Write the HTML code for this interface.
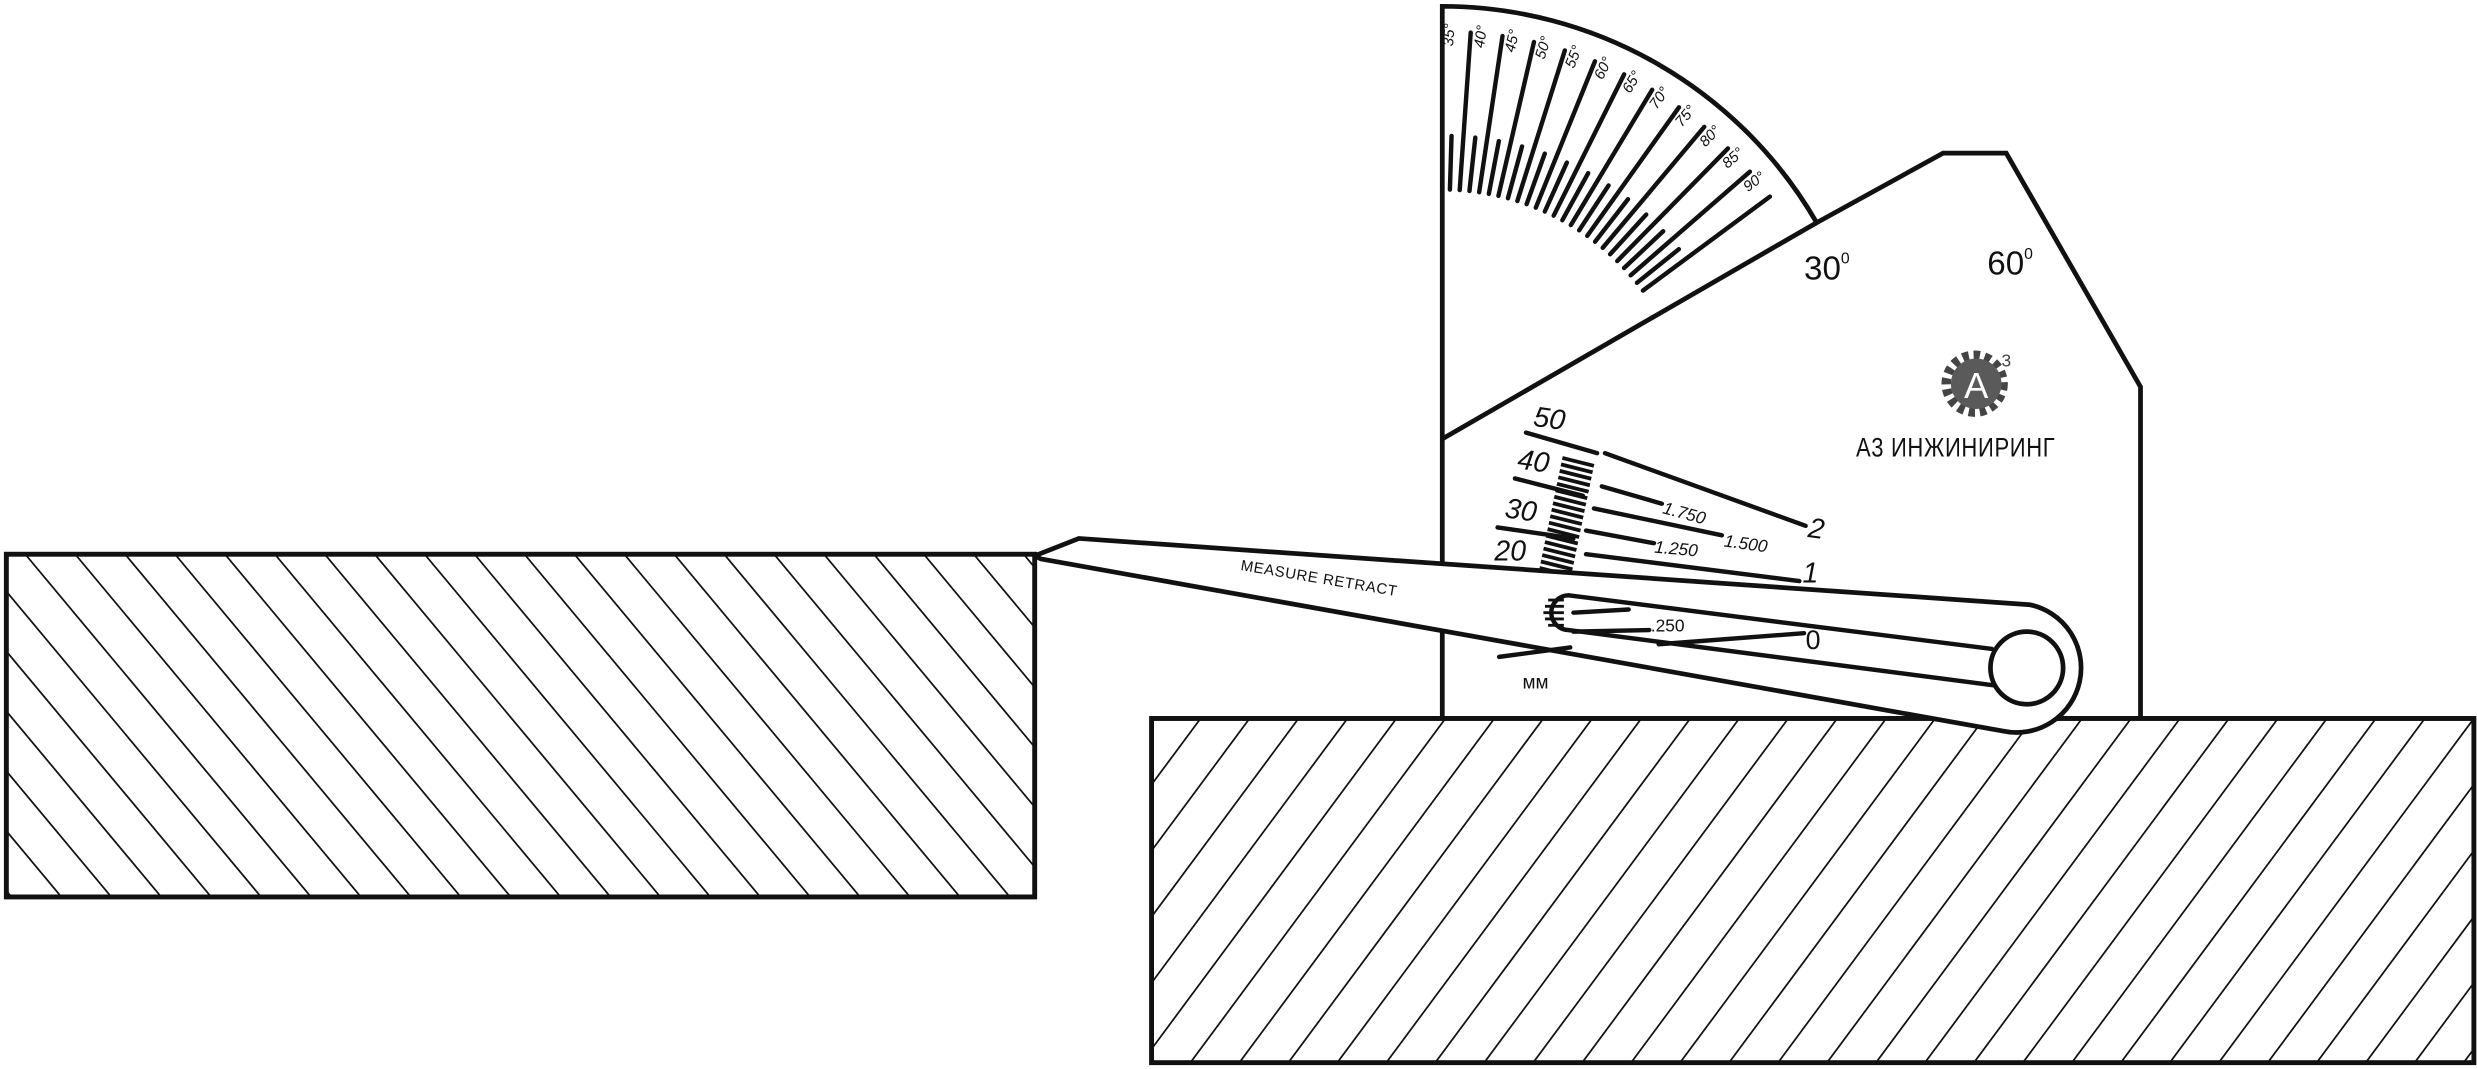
<!DOCTYPE html>
<html><head><meta charset="utf-8"><style>
html,body{margin:0;padding:0;background:#fff;}
svg{display:block;}
text{font-family:"Liberation Sans",sans-serif;fill:#111;}
</style></head><body>
<svg id="s" width="2477" height="1069" viewBox="0 0 1568 677" preserveAspectRatio="none" xmlns="http://www.w3.org/2000/svg">
<defs>
<clipPath id="cl"><rect x="4" y="351" width="651" height="217"/></clipPath>
<clipPath id="cr"><rect x="729" y="455" width="837" height="218"/></clipPath>
</defs>
<path d="M913,455 L913,4 A274,274 0 0 1 1150,141 L1230,97 L1270,97 L1355,245 L1355,455" fill="#fff" stroke="#111" stroke-width="3"/>
<line x1="913" y1="278" x2="1150" y2="141" stroke="#111" stroke-width="3"/>
<g id="ticks" stroke="#111" stroke-width="2.8" stroke-linecap="round"></g>
<g id="lbls"></g>
<text x="1142" y="177" font-size="21">30<tspan font-size="10" dy="-10">0</tspan></text>
<text x="1258" y="174" font-size="21">60<tspan font-size="10" dy="-10">0</tspan></text>
<circle cx="1250" cy="243" r="18" fill="none" stroke="#444" stroke-width="6" stroke-dasharray="4 3"/>
<circle cx="1251" cy="243" r="16" fill="#5a5a5a"/>
<text x="1251" y="252" font-size="23" text-anchor="middle" style="fill:#fff">A</text>
<text x="1267" y="232" font-size="11" style="fill:#444">3</text>
<text x="1238" y="289" font-size="17" text-anchor="middle" transform="translate(1238,0) scale(0.82,1) translate(-1238,0)" letter-spacing="0.5">А3 ИНЖИНИРИНГ</text>
<g stroke="#111" stroke-width="2.8" stroke-linecap="round">
<line x1="966" y1="274" x2="1011" y2="287"/>
<line x1="959" y1="303" x2="1002" y2="314"/>
<line x1="948" y1="334" x2="996" y2="341"/>
<line x1="1016" y1="287" x2="1143" y2="333"/>
<line x1="1014" y1="308" x2="1052" y2="319"/>
<line x1="1009" y1="322" x2="1090" y2="339"/>
<line x1="1004" y1="336" x2="1047" y2="344"/>
<line x1="1004" y1="351" x2="1139" y2="368"/>
</g>
<g id="mmt" stroke="#111" stroke-width="2.4"></g>
<g font-size="18" font-style="italic">
<text x="980" y="271" text-anchor="middle" transform="rotate(8 980 271)">50</text>
<text x="970" y="298" text-anchor="middle" transform="rotate(8 970 298)">40</text>
<text x="962" y="329" text-anchor="middle" transform="rotate(8 962 329)">30</text>
<text x="956" y="355" text-anchor="middle">20</text>
<text x="1144" y="340" transform="rotate(8 1144 340)">2</text>
<text x="1141" y="369">1</text>
</g>
<g font-size="11" font-style="italic">
<text x="1052" y="325" transform="rotate(15 1052 325)">1.750</text>
<text x="1091" y="346" transform="rotate(8 1091 346)">1.500</text>
<text x="1047" y="350" transform="rotate(5 1047 350)">1.250</text>
</g>
<rect x="4" y="351" width="651" height="217" fill="#fff" stroke="#111" stroke-width="3"/>
<g id="hl" clip-path="url(#cl)" stroke="#111" stroke-width="1.1"></g>
<rect x="729" y="455" width="837" height="218" fill="#fff" stroke="#111" stroke-width="3"/>
<g id="hr" clip-path="url(#cr)" stroke="#111" stroke-width="1.1"></g>
<rect x="729" y="455" width="837" height="218" fill="none" stroke="#111" stroke-width="3"/>
<rect x="4" y="351" width="651" height="217" fill="none" stroke="#111" stroke-width="3"/>
<path d="M655,352 L683,341 L1285,383 A40,40 0 0 1 1268,463 L659,354 Z" fill="#fff" stroke="#111" stroke-width="3" stroke-linejoin="round"/>
<circle cx="1283" cy="423" r="23" fill="#fff" stroke="#111" stroke-width="3"/>
<g stroke="#111" stroke-width="2.8" fill="none" stroke-linecap="round">
<path d="M993,377 A11,11 0 0 0 993,399"/>
<line x1="993" y1="377" x2="1261" y2="411"/>
<line x1="993" y1="399" x2="1262" y2="434"/>
<line x1="996" y1="388" x2="1031" y2="386"/>
<line x1="996" y1="400" x2="1044" y2="399"/>
<line x1="1050" y1="408" x2="1142" y2="401"/>
<line x1="949" y1="416" x2="994" y2="410"/>
</g>
<g stroke="#111" stroke-width="1.8">
<line x1="980" y1="380" x2="990" y2="380"/><line x1="978" y1="384" x2="990" y2="384"/>
<line x1="977" y1="388" x2="990" y2="388"/><line x1="978" y1="392" x2="990" y2="392"/>
<line x1="980" y1="396" x2="990" y2="396"/>
</g>
<text x="1045" y="400" font-size="11">.250</text>
<text x="1143" y="411" font-size="17">0</text>
<text x="972" y="436" font-size="12" text-anchor="middle">мм</text>
<text x="785" y="361" font-size="9.5" transform="rotate(9.5 785 361)" letter-spacing="0.4">MEASURE RETRACT</text>
</svg>
<script>
var NS="http://www.w3.org/2000/svg";
function ln(g,x1,y1,x2,y2){var l=document.createElementNS(NS,"line");l.setAttribute("x1",x1);l.setAttribute("y1",y1);l.setAttribute("x2",x2);l.setAttribute("y2",y2);g.appendChild(l);}
var cx=913,cy=278,T=document.getElementById("ticks"),L=document.getElementById("lbls");
for(var k=0;k<12;k++){
 var a=4+4.5*k, r=a*Math.PI/180, s=Math.sin(r), c=Math.cos(r);
 ln(T,cx+158*s,cy-158*c,cx+258*s,cy-258*c);
 var b=(a-2.25)*Math.PI/180;
 ln(T,cx+158*Math.sin(b),cy-158*Math.cos(b),cx+192*Math.sin(b),cy-192*Math.cos(b));
 var q=(a-2.3)*Math.PI/180, x=cx+263*Math.sin(q), y=cy-263*Math.cos(q);
 var t=document.createElementNS(NS,"text");
 t.setAttribute("x",x);t.setAttribute("y",y);t.setAttribute("font-size","9.5");t.setAttribute("font-style","italic");
 t.setAttribute("text-anchor","end");t.setAttribute("transform","rotate("+(a-90)+" "+x+" "+y+")");
 t.textContent=(35+5*k)+"°";L.appendChild(t);
}
var M=document.getElementById("mmt");
for(var i=0;i<18;i++){var y=290+i*4.1,x=989-i*0.85;ln(M,x,y,x+20,y+5);}
var H=document.getElementById("hl");
for(var x=-300;x<700;x+=31.6){ln(H,x,351,x+217/1.2,568);}
var R=document.getElementById("hr");
for(var x=729;x<1800;x+=31){ln(R,x,455,x-218/1.35,673);}
</script>
</body></html>
